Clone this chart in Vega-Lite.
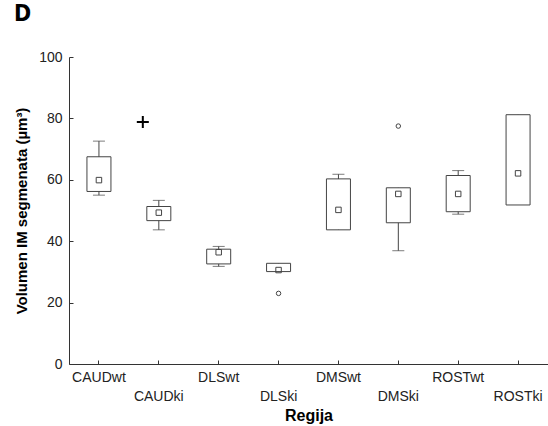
{
  "$schema": "https://vega.github.io/schema/vega-lite/v6.json",
  "width": 479,
  "height": 307,
  "autosize": "none",
  "padding": {"left": 69, "top": 57, "right": 0, "bottom": 62},
  "background": "white",
  "title": {"text": "D", "anchor": "start", "frame": "group", "dx": -55, "offset": 24, "font": "DejaVu Sans Condensed", "fontSize": 23, "fontWeight": "bold", "color": "black"},
  "config": {
    "view": {"stroke": null},
    "axis": {"grid": false, "labelFont": "Liberation Sans", "labelFontSize": 14, "labelColor": "#222", "titleFont": "Liberation Sans", "titleFontWeight": "bold", "titleColor": "black", "domainColor": "#333", "tickColor": "#333", "tickSize": -4}
  },
  "datasets": {
    "boxes": [
      {"region": "CAUDwt", "lo": 55.0, "q1": 56.2, "med": 59.9, "q3": 67.5, "hi": 72.6},
      {"region": "CAUDki", "lo": 43.7, "q1": 46.7, "med": 49.3, "q3": 51.3, "hi": 53.3},
      {"region": "DLSwt", "lo": 31.8, "q1": 32.6, "med": 36.4, "q3": 37.4, "hi": 38.3},
      {"region": "DLSki", "lo": 30.1, "q1": 30.1, "med": 30.6, "q3": 32.8, "hi": 32.8},
      {"region": "DMSwt", "lo": 43.7, "q1": 43.7, "med": 50.2, "q3": 60.3, "hi": 61.8},
      {"region": "DMSki", "lo": 36.9, "q1": 46.0, "med": 55.4, "q3": 57.4, "hi": 57.4},
      {"region": "ROSTwt", "lo": 48.8, "q1": 49.6, "med": 55.4, "q3": 61.4, "hi": 63.0},
      {"region": "ROSTki", "lo": 51.8, "q1": 51.8, "med": 62.1, "q3": 81.2, "hi": 81.2}
    ],
    "outliers": [
      {"region": "DLSki", "value": 23.0, "kind": "outlier"},
      {"region": "DMSki", "value": 77.5, "kind": "outlier"},
      {"region": "CAUDki", "value": 78.8, "kind": "extreme"}
    ]
  },
  "data": {"name": "boxes"},
  "encoding": {
    "x": {
      "field": "region", "type": "nominal",
      "sort": ["CAUDwt", "CAUDki", "DLSwt", "DLSki", "DMSwt", "DMSki", "ROSTwt", "ROSTki"],
      "scale": {"paddingInner": 0, "paddingOuter": 0},
      "axis": {"title": "Regija", "titleFontSize": 16, "titlePadding": 4, "labelAngle": 0, "labelPadding": 10, "labelLineHeight": 19, "labelExpr": "test(/ki$/, datum.value) ? ['', datum.value] : datum.value"}
    }
  },
  "layer": [
    {
      "mark": {"type": "rule", "color": "#444", "strokeWidth": 1},
      "encoding": {
        "y": {"field": "lo", "type": "quantitative", "scale": {"domain": [0, 100], "nice": false},
          "axis": {"title": "Volumen IM segmenata (µm³)", "titleFontSize": 15, "titlePadding": 9, "values": [0, 20, 40, 60, 80, 100], "labelPadding": 11}},
        "y2": {"field": "hi"}
      }
    },
    {
      "transform": [{"filter": "datum.lo < datum.q1"}],
      "mark": {"type": "tick", "color": "#444", "size": 12, "thickness": 1},
      "encoding": {"y": {"field": "lo", "type": "quantitative"}}
    },
    {
      "transform": [{"filter": "datum.hi > datum.q3"}],
      "mark": {"type": "tick", "color": "#444", "size": 12, "thickness": 1},
      "encoding": {"y": {"field": "hi", "type": "quantitative"}}
    },
    {
      "mark": {"type": "bar", "width": 24, "fill": "white", "stroke": "#444", "strokeWidth": 1},
      "encoding": {
        "y": {"field": "q1", "type": "quantitative"},
        "y2": {"field": "q3"}
      }
    },
    {
      "mark": {"type": "point", "shape": "square", "size": 30, "filled": false, "stroke": "#444", "strokeWidth": 1, "opacity": 1},
      "encoding": {"y": {"field": "med", "type": "quantitative"}}
    },
    {
      "data": {"name": "outliers"},
      "transform": [{"filter": "datum.kind == 'outlier'"}],
      "mark": {"type": "point", "shape": "circle", "size": 20, "filled": false, "stroke": "#444", "strokeWidth": 1, "opacity": 1},
      "encoding": {"y": {"field": "value", "type": "quantitative"}}
    },
    {
      "data": {"name": "outliers"},
      "transform": [{"filter": "datum.kind == 'extreme'"}],
      "mark": {"type": "point", "shape": "M-1,0H1M0,-1V1", "size": 144, "filled": false, "stroke": "black", "strokeWidth": 2, "opacity": 1, "xOffset": -16},
      "encoding": {"y": {"field": "value", "type": "quantitative"}}
    }
  ]
}
